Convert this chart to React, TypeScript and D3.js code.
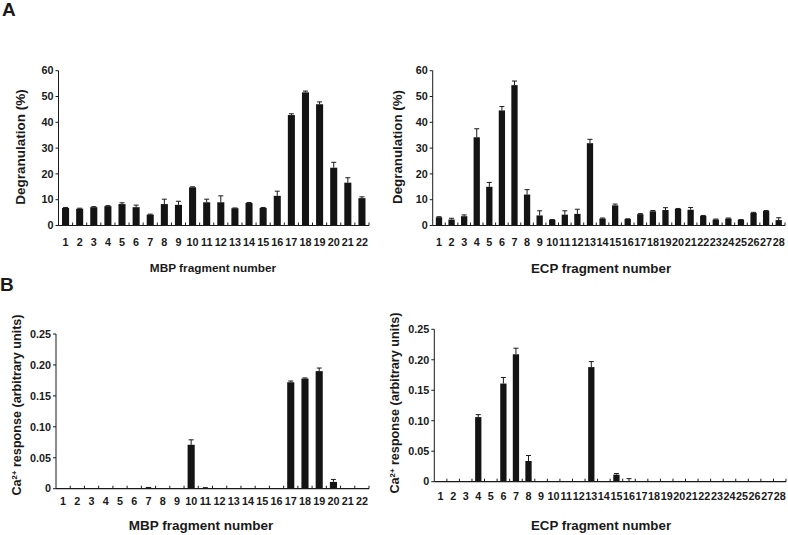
import { range, scaleBand, scaleLinear } from "d3";

const mbpFragments = range(1, 23).map(String);
const ecpFragments = range(1, 29).map(String);

const mbpDegranulation = [6.8, 6.5, 7.1, 7.5, 8.3, 7.1, 4.2, 8.3, 8.0, 14.8, 9.0, 9.0, 6.7, 8.7, 6.8, 11.5, 42.8, 51.6, 47.0, 22.4, 16.6, 10.6];
const mbpDegranulationErr = [0.2, 0.2, 0.2, 0.2, 0.5, 0.8, 0.2, 1.9, 1.4, 0.2, 1.2, 2.5, 0.1, 0.2, 0.2, 1.8, 0.5, 0.5, 0.9, 2.1, 1.9, 0.5];

const ecpDegranulation = [3.2, 2.3, 3.6, 34.2, 15.0, 44.6, 54.4, 12.0, 3.9, 2.2, 4.2, 4.5, 31.9, 2.7, 7.8, 2.5, 4.4, 5.5, 6.0, 6.4, 6.1, 3.7, 2.3, 2.7, 2.2, 4.9, 5.6, 2.1];
const ecpDegranulationErr = [0.2, 0.5, 0.5, 3.3, 1.7, 1.5, 1.6, 1.9, 1.8, 0.1, 1.5, 1.8, 1.5, 0.2, 0.5, 0.1, 0.2, 0.3, 0.9, 0.2, 0.9, 0.2, 0.2, 0.2, 0.1, 0.2, 0.2, 0.9];

const mbpCalcium = [0, 0, 0, 0, 0, 0, 0.0015, 0, 0, 0.071, 0.0012, 0, 0.0005, 0, 0, 0, 0.172, 0.178, 0.19, 0.011, 0, 0];
const mbpCalciumErr = [0, 0, 0, 0, 0, 0, 0.0005, 0, 0, 0.008, 0.0005, 0, 0, 0, 0, 0, 0.002, 0.001, 0.005, 0.004, 0, 0];

const ecpCalcium = [0, 0, 0, 0.106, 0, 0.161, 0.209, 0.034, 0, 0, 0, 0, 0.188, 0, 0.0115, 0, 0, 0, 0, 0, 0, 0, 0, 0, 0, 0, 0, 0];
const ecpCalciumErr = [0, 0, 0, 0.004, 0, 0.01, 0.01, 0.009, 0, 0, 0, 0, 0.009, 0, 0.002, 0.005, 0, 0, 0, 0, 0, 0, 0, 0, 0, 0, 0, 0];

const degranulationTicks = [0, 10, 20, 30, 40, 50, 60];
const calciumTicks = [0, 0.05, 0.1, 0.15, 0.2, 0.25];
const calciumTickLabels = ["0", "0.05", "0.10", "0.15", "0.20", "0.25"];

const ink = "#1a1a1a";
const font = "'Liberation Sans', Arial, sans-serif";

type PanelProps = {
  cats: string[];
  values: number[];
  errors: number[];
  ticks: number[];
  tickLabels: string[];
  left: number;
  right: number;
  top: number;
  bottom: number;
  labelGap: number;
  xTitle: string;
  xTitleX: number;
  xTitleY: number;
  xTitleSize: number;
  yTitleX: number;
  yTitleY: number;
  yTitleSize: number;
  calcium?: boolean;
};

function Panel(p: PanelProps) {
  const x = scaleBand<string>()
    .domain(p.cats)
    .range([p.left, p.right])
    .paddingInner(0.5)
    .paddingOuter(0.25);
  const y = scaleLinear()
    .domain([p.ticks[0], p.ticks[p.ticks.length - 1]])
    .range([p.bottom, p.top]);
  const bw = x.bandwidth();

  return (
    <g>
      {p.cats.map((c, i) => {
        const v = p.values[i];
        const e = p.errors[i];
        const cx = (x(c) ?? 0) + bw / 2;
        return (
          <g key={c}>
            {v > 0 ? (
              <rect x={x(c)} y={y(v)} width={bw} height={y(0) - y(v)} fill="#141414" />
            ) : null}
            {e > 0 ? (
              <g stroke={ink} strokeWidth={1}>
                <line x1={cx} x2={cx} y1={y(v)} y2={y(v + e)} />
                <line x1={cx - 2.5} x2={cx + 2.5} y1={y(v + e)} y2={y(v + e)} />
              </g>
            ) : null}
          </g>
        );
      })}

      {/* axes */}
      <line x1={p.left} x2={p.left} y1={p.top} y2={p.bottom} stroke={ink} strokeWidth={1} />
      <line x1={p.left} x2={p.right} y1={p.bottom} y2={p.bottom} stroke={ink} strokeWidth={1.2} />
      {p.cats.map((c, i) => {
        const bx = p.left + x.step() * (i + 1);
        return <line key={c} x1={bx} x2={bx} y1={p.bottom} y2={p.bottom - 3} stroke={ink} strokeWidth={1} />;
      })}
      {p.ticks.map((t, i) => (
        <g key={t}>
          <line x1={p.left - 3} x2={p.left} y1={y(t)} y2={y(t)} stroke={ink} strokeWidth={1} />
          <text
            x={p.left - 5}
            y={y(t)}
            dy="0.35em"
            textAnchor="end"
            fontSize={10.8}
            fontWeight="bold"
            fill={ink}
          >
            {p.tickLabels[i]}
          </text>
        </g>
      ))}
      {p.cats.map((c) => (
        <text
          key={c}
          x={(x(c) ?? 0) + bw / 2}
          y={p.bottom + p.labelGap}
          dy="0.35em"
          textAnchor="middle"
          fontSize={10.8}
          fontWeight="bold"
          fill={ink}
        >
          {c}
        </text>
      ))}

      <text
        x={p.xTitleX}
        y={p.xTitleY}
        dy="0.35em"
        textAnchor="middle"
        fontSize={p.xTitleSize}
        fontWeight="bold"
        fill={ink}
      >
        {p.xTitle}
      </text>
      <text
        transform={`translate(${p.yTitleX},${p.yTitleY}) rotate(-90)`}
        dy="0.35em"
        textAnchor="middle"
        fontSize={p.yTitleSize}
        fontWeight="bold"
        fill={ink}
      >
        {p.calcium ? (
          <>
            Ca
            <tspan fontSize={p.yTitleSize * 0.62} dy="-0.55em">
              2+
            </tspan>
            <tspan dy="0.34em"> response (arbitrary units)</tspan>
          </>
        ) : (
          "Degranulation (%)"
        )}
      </text>
    </g>
  );
}

export default function App() {
  const degLabels = degranulationTicks.map(String);
  return (
    <svg
      width={788}
      height={535}
      viewBox="0 0 788 535"
      style={{ position: "absolute", left: 0, top: 0, background: "#fff" }}
      fontFamily={font}
    >
      <text x={2} y={16} fontSize={19} fontWeight="bold" fill={ink}>A</text>
      <text x={0} y={291} fontSize={19} fontWeight="bold" fill={ink}>B</text>

      <Panel
        cats={mbpFragments}
        values={mbpDegranulation}
        errors={mbpDegranulationErr}
        ticks={degranulationTicks}
        tickLabels={degLabels}
        left={58.5}
        right={369}
        top={70.7}
        bottom={225.5}
        labelGap={16.5}
        xTitle="MBP fragment number"
        xTitleX={213}
        xTitleY={268}
        xTitleSize={11.8}
        yTitleX={20}
        yTitleY={147}
        yTitleSize={13.5}
      />
      <Panel
        cats={ecpFragments}
        values={ecpDegranulation}
        errors={ecpDegranulationErr}
        ticks={degranulationTicks}
        tickLabels={degLabels}
        left={432.7}
        right={785}
        top={70.7}
        bottom={225.5}
        labelGap={16.5}
        xTitle="ECP fragment number"
        xTitleX={601}
        xTitleY={268}
        xTitleSize={13.3}
        yTitleX={397}
        yTitleY={147}
        yTitleSize={13.3}
      />
      <Panel
        cats={mbpFragments}
        values={mbpCalcium}
        errors={mbpCalciumErr}
        ticks={calciumTicks}
        tickLabels={calciumTickLabels}
        left={56}
        right={369}
        top={334}
        bottom={488.7}
        labelGap={12.5}
        xTitle="MBP fragment number"
        xTitleX={201}
        xTitleY={525}
        xTitleSize={13.5}
        yTitleX={17}
        yTitleY={405}
        yTitleSize={12.6}
        calcium
      />
      <Panel
        cats={ecpFragments}
        values={ecpCalcium}
        errors={ecpCalciumErr}
        ticks={calciumTicks}
        tickLabels={calciumTickLabels}
        left={434.3}
        right={786}
        top={329.3}
        bottom={481.7}
        labelGap={14.5}
        xTitle="ECP fragment number"
        xTitleX={601}
        xTitleY={525}
        xTitleSize={13.3}
        yTitleX={395}
        yTitleY={403}
        yTitleSize={12.6}
        calcium
      />
    </svg>
  );
}
